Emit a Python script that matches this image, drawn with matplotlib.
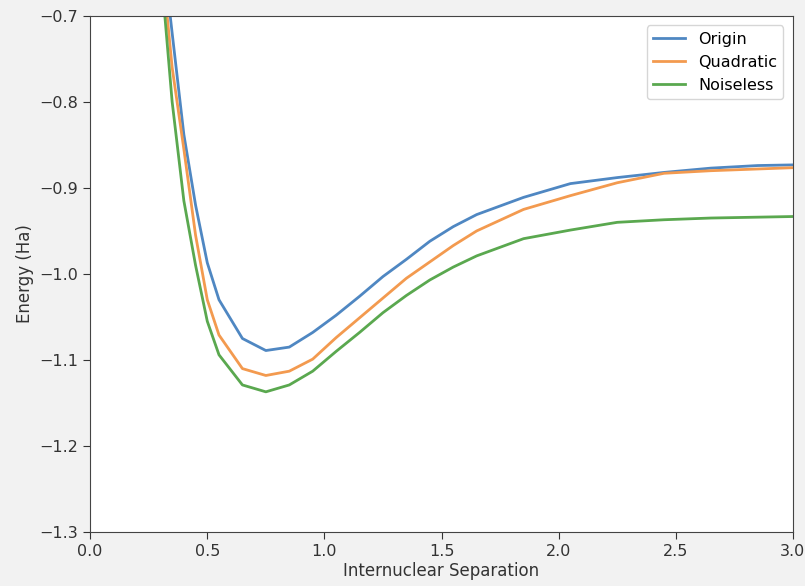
import matplotlib
matplotlib.use('Agg')
from matplotlib import pyplot as plt

# internuclear separation grid
separation = [0.30, 0.35, 0.40, 0.45, 0.50, 0.55, 0.65, 0.75, 0.85, 0.95,
              1.05, 1.15, 1.25, 1.35, 1.45, 1.55, 1.65, 1.85, 2.05, 2.25,
              2.45, 2.65, 2.85, 3.05]

origin = [-0.600, -0.720, -0.838, -0.920, -0.987, -1.030, -1.075, -1.089,
          -1.085, -1.068, -1.048, -1.026, -1.003, -0.983, -0.962, -0.945,
          -0.931, -0.911, -0.895, -0.888, -0.882, -0.877, -0.874, -0.873]

quadratic = [-0.620, -0.760, -0.855, -0.955, -1.030, -1.071, -1.110, -1.118,
             -1.113, -1.099, -1.074, -1.051, -1.028, -1.005, -0.986, -0.967,
             -0.950, -0.925, -0.909, -0.894, -0.883, -0.880, -0.878, -0.876]

noiseless = [-0.640, -0.800, -0.915, -0.990, -1.055, -1.094, -1.129, -1.137,
             -1.129, -1.113, -1.090, -1.068, -1.045, -1.025, -1.007, -0.992,
             -0.979, -0.959, -0.949, -0.940, -0.937, -0.935, -0.934, -0.933]

fig = plt.figure(figsize=(8.05, 5.86), dpi=100, facecolor='#f2f2f2')
ax = fig.add_axes([0.112, 0.092, 0.873, 0.881])

ax.plot(separation, origin, color='#4f87c2', lw=2, label='Origin')
ax.plot(separation, quadratic, color='#f39a4f', lw=2, label='Quadratic')
ax.plot(separation, noiseless, color='#5aa84f', lw=2, label='Noiseless')

ax.set_xlim(0, 3)
ax.set_ylim(-1.3, -0.7)
ax.set_xlabel('Internuclear Separation', fontsize=12, color='#333333', labelpad=2)
ax.set_ylabel('Energy (Ha)', fontsize=12, color='#333333')
ax.tick_params(labelsize=11.5, colors='#333333', length=5)
for s in ax.spines.values():
    s.set_color('#444444')

ax.legend(loc='upper right', fontsize=11.5, borderaxespad=0.6)

fig.savefig('out.png', dpi=100, facecolor=fig.get_facecolor())
